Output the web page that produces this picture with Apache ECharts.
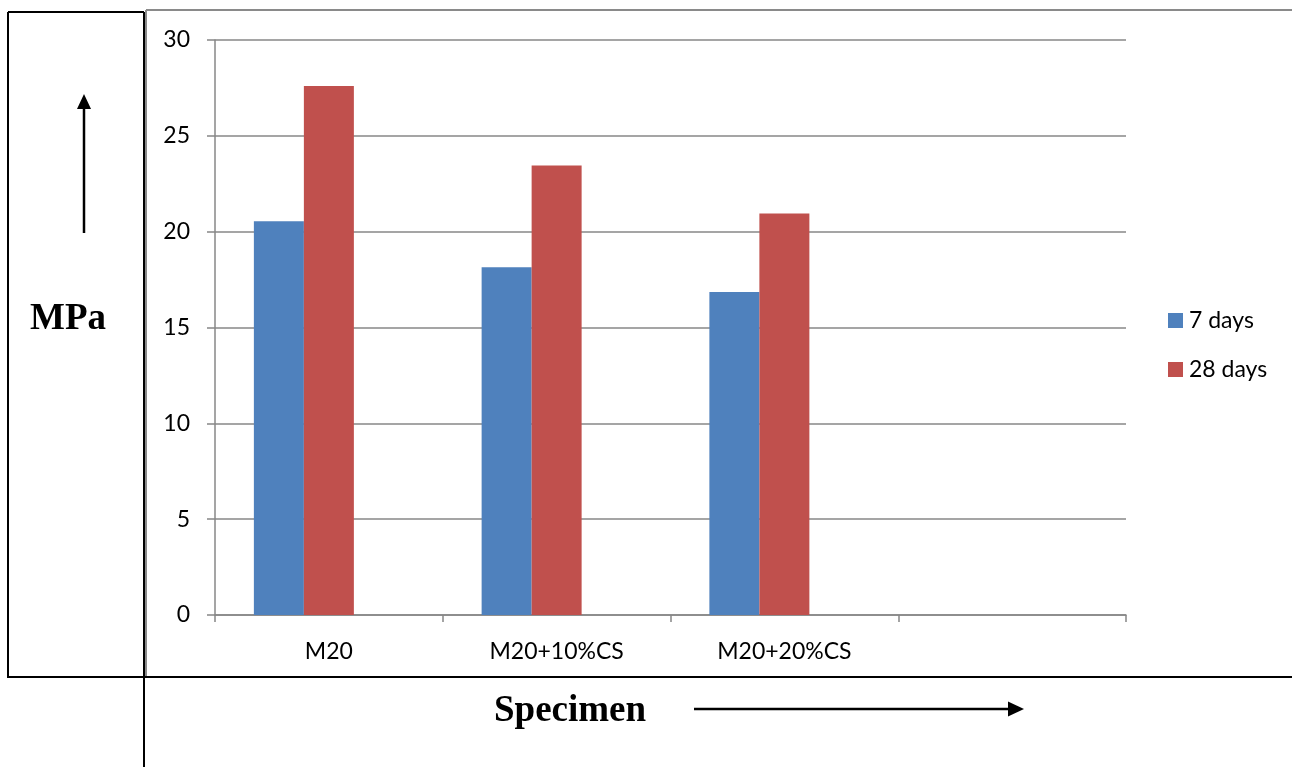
<!DOCTYPE html>
<html>
<head>
<meta charset="utf-8">
<script src="https://cdn.jsdelivr.net/npm/echarts@6/dist/echarts.min.js"></script>
<style>
  html, body { margin: 0; padding: 0; background: #fff; }
  #chart { width: 1292px; height: 767px; }
</style>
</head>
<body>
<div id="chart"></div>
<script>
// Compressive strength of M20 mixes with copper slag (CS) replacement
const categories = ['M20', 'M20+10%CS', 'M20+20%CS', ''];
const days7 = [20.55, 18.15, 16.85, null];
const days28 = [27.6, 23.45, 20.95, null];
const spare = [null, null, null, null]; // third (empty) series slot in each group
const yTicks = { min: 0, max: 30, interval: 5 };

const chart = echarts.init(document.getElementById('chart'), null, { renderer: 'canvas' });
const gray = '#878787';
const labelFont = 'Lato, "Liberation Sans", sans-serif';
const serif = '"Liberation Serif", "DejaVu Serif", serif';

chart.setOption({
  animation: false,
  backgroundColor: '#fff',
  grid: { left: 215, right: 166, top: 40, bottom: 152, containLabel: false },
  legend: {
    orient: 'vertical',
    left: 1168,
    top: 309,
    padding: 0,
    data: ['7 days', '28 days'],
    itemWidth: 15,
    itemHeight: 15,
    itemGap: 26,
    icon: 'rect',
    textStyle: { fontFamily: labelFont, fontSize: 23, lineHeight: 23, color: '#000', padding: [0, 0, 0, 1] }
  },
  xAxis: {
    type: 'category',
    data: categories,
    axisLine: { lineStyle: { color: gray, width: 1.5 } },
    axisTick: { show: true, alignWithLabel: false, length: 7, lineStyle: { color: gray, width: 1.5 } },
    axisLabel: { fontFamily: labelFont, fontSize: 23, color: '#000', margin: 25 },
    splitLine: { show: false }
  },
  yAxis: {
    type: 'value',
    min: yTicks.min,
    max: yTicks.max,
    interval: yTicks.interval,
    axisLine: { show: true, lineStyle: { color: gray, width: 1.5 } },
    axisTick: { show: true, length: 8, inside: false, lineStyle: { color: gray, width: 1.5 } },
    axisLabel: { fontFamily: labelFont, fontSize: 23, color: '#000', margin: 25 },
    splitLine: { show: true, lineStyle: { color: gray, width: 1.5 } }
  },
  series: [
    { name: '7 days', type: 'bar', data: days7, barWidth: 50, barGap: '0%', itemStyle: { color: '#4F81BD' } },
    { name: '28 days', type: 'bar', data: days28, barWidth: 50, barGap: '0%', itemStyle: { color: '#C0504D' } },
    { name: 'spare', type: 'bar', data: spare, barWidth: 50, barGap: '0%', itemStyle: { color: 'rgba(0,0,0,0)' } }
  ],
  graphic: [
    // chart frame (gray)
    { type: 'line', shape: { x1: 146, y1: 10, x2: 1292, y2: 10 }, style: { stroke: '#8a8a8a', lineWidth: 2 } },
    { type: 'line', shape: { x1: 146, y1: 10, x2: 146, y2: 677 }, style: { stroke: '#8a8a8a', lineWidth: 2 } },
    // table rules (black)
    { type: 'line', shape: { x1: 8, y1: 12, x2: 144, y2: 12 }, style: { stroke: '#000', lineWidth: 2 } },
    { type: 'line', shape: { x1: 8, y1: 12, x2: 8, y2: 677 }, style: { stroke: '#000', lineWidth: 2 } },
    { type: 'line', shape: { x1: 144, y1: 12, x2: 144, y2: 767 }, style: { stroke: '#000', lineWidth: 2 } },
    { type: 'line', shape: { x1: 7, y1: 677, x2: 1292, y2: 677 }, style: { stroke: '#000', lineWidth: 2 } },
    // y-axis title and upward arrow
    { type: 'text', style: { x: 30, y: 319, text: 'MPa', font: 'bold 37px ' + serif, fill: '#000', align: 'left', verticalAlign: 'middle' } },
    { type: 'line', shape: { x1: 84, y1: 233, x2: 84, y2: 106 }, style: { stroke: '#000', lineWidth: 2.5 } },
    { type: 'polygon', shape: { points: [[84, 94], [77, 109], [91, 109]] }, style: { fill: '#000' } },
    // x-axis title and rightward arrow
    { type: 'text', style: { x: 494, y: 711, text: 'Specimen', font: 'bold 37px ' + serif, fill: '#000', align: 'left', verticalAlign: 'middle' } },
    { type: 'line', shape: { x1: 694, y1: 709, x2: 1010, y2: 709 }, style: { stroke: '#000', lineWidth: 2.5 } },
    { type: 'polygon', shape: { points: [[1024, 709], [1008, 701.5], [1008, 716.5]] }, style: { fill: '#000' } }
  ]
});
</script>
</body>
</html>
